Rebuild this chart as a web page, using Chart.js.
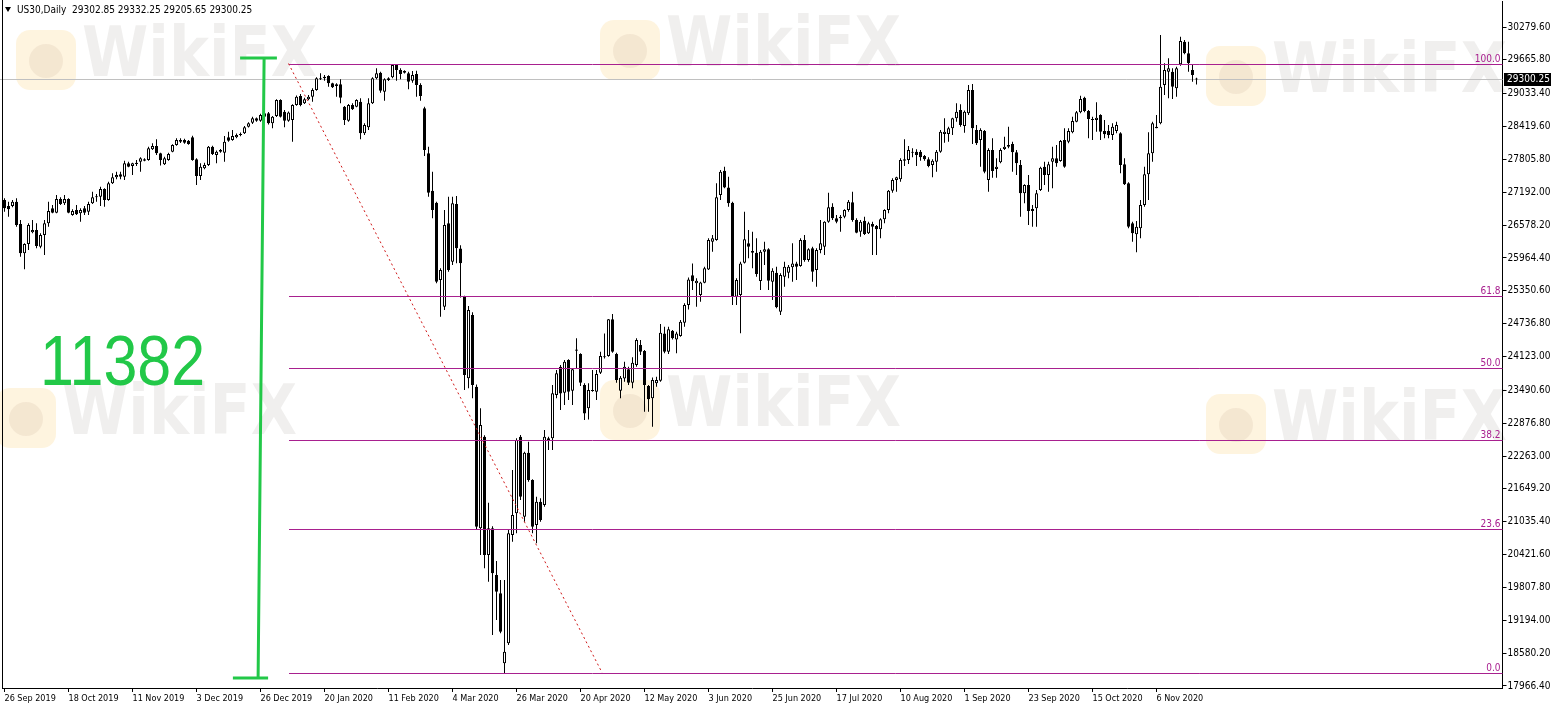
<!DOCTYPE html>
<html><head><meta charset="utf-8">
<script src="https://cdn.jsdelivr.net/npm/chart.js@4.4.1/dist/chart.umd.min.js"></script>
<style>html,body{margin:0;padding:0;background:#fff;overflow:hidden}canvas{display:block}</style>
</head><body>
<canvas id="c" width="1552" height="710"></canvas>
<script>
// ---------------- data ----------------
const tickLabels = ['26 Sep 2019','18 Oct 2019','11 Nov 2019','3 Dec 2019','26 Dec 2019','20 Jan 2020','11 Feb 2020','4 Mar 2020','26 Mar 2020','20 Apr 2020','12 May 2020','3 Jun 2020','25 Jun 2020','17 Jul 2020','10 Aug 2020','1 Sep 2020','23 Sep 2020','15 Oct 2020','6 Nov 2020'];
const opens = [27047,26935,26935,27016,26599,26051,26225,26443,26487,26175,26393,26611,26892,26811,27066,26985,27066,26767,26860,26798,
26892,26829,26985,27097,27110,27253,27047,27359,27471,27527,27483,27732,27682,27720,27763,27782,27795,27994,28056,27919,
27714,27795,27950,28075,28137,28168,28156,28218,27807,27496,27639,27701,28044,27888,27950,27932,28218,28168,28218,28262,
28293,28418,28492,28573,28530,28667,28667,28480,28617,28916,28698,28530,28542,28822,28990,28853,28928,28978,29103,29321,
29321,29364,29227,29177,29209,28791,28530,28822,28791,28885,28293,28405,28854,29321,29426,29071,29289,29339,29570,29476,
29458,29414,29277,29402,29196,28760,27919,27222,26998,25553,25054,26611,25895,26973,26140,25241,23715,24898,23559,20912,
22625,20414,20912,20040,19698,18390,18764,20788,21193,22625,21130,22326,21815,20975,21411,21348,22563,22594,23404,23932,
23447,24057,23484,24256,24169,23590,23154,23496,23465,23820,24119,24132,24817,24169,23484,23714,23883,23633,23964,24337,
24225,23571,23341,23621,23671,24555,24213,24605,24443,24505,24754,25085,25640,25490,25272,25502,25751,26268,26299,27140,
27595,27283,26997,25241,25272,25876,26237,26094,26063,25533,26081,26125,25521,25689,24960,25614,25689,25789,25863,25814,
26299,25926,26144,25739,26113,26175,26642,26922,26704,26704,26735,26860,27003,26673,26455,26661,26424,26599,26561,26499,
26686,26860,27221,27421,27433,27782,27794,27931,27950,27950,27869,27807,27701,27763,27950,28280,28280,28386,28573,28729,
28430,28666,29102,28355,28168,28336,27421,27981,27627,27751,27999,28044,28094,27938,27701,27172,27328,26842,26892,27234,
27670,27514,27764,27826,27776,28168,28137,28312,28511,28685,28959,28710,28561,28542,28635,28337,28337,28262,28337,28293,
27714,27359,26611,26406,26518,26954,27527,27919,28386,28480,29196,29445,29445,29134,29582,30006,29788,29476,29302.85];
const highs = [27078,27016,27047,27078,26674,26238,26611,26674,26611,26424,26674,27016,26954,27141,27097,27141,27078,26873,26954,26892,
26935,27016,27203,27159,27296,27265,27390,27546,27577,27577,27782,27764,27745,27795,27845,27826,28044,28106,28181,27930,
27857,27930,28090,28200,28200,28190,28168,28250,27826,27732,27745,28056,28060,27970,28000,28243,28324,28355,28290,28310,
28430,28500,28604,28590,28660,28700,28690,28617,28930,28930,28729,28700,28835,29000,29028,28960,29010,29134,29340,29414,
29383,29377,29240,29227,29302,28804,28840,28854,28930,28947,28480,28947,29340,29507,29445,29321,29340,29588,29588,29507,
29470,29445,29458,29464,29227,28791,28044,27577,27016,25771,26861,27110,27110,27122,26200,25260,25066,24950,23600,23154,
22650,21392,20950,20300,19947,19947,20881,22002,22594,22656,22345,22532,21828,21504,21473,22750,22625,23590,23871,23964,
24057,24070,23901,24462,24182,23621,23621,23870,23870,24213,24555,24823,24916,24194,23758,24026,23932,24107,24462,24431,
24244,23590,23733,23745,24730,24680,24680,24617,24586,24804,25116,25600,25863,25583,25521,25801,26331,26393,27358,27607,
27670,27483,27016,25583,25895,26829,26486,26455,26331,26113,26268,26144,25770,25801,25677,25895,25832,26237,25895,26331,
26393,26144,26175,26144,26673,26650,27184,26985,26767,26767,26873,27047,27203,26704,26673,26736,26642,26642,26580,26704,
26873,27234,27452,27483,27826,28181,28056,28012,27994,27981,27888,27844,27807,27981,28355,28573,28417,28585,28853,28835,
28720,29196,29214,28448,28386,28355,28012,28200,27826,28013,28231,28417,28137,27981,27795,27340,27514,26954,27234,27670,
27764,27764,28044,28075,28168,28386,28386,28604,28710,28997,28978,28729,28604,28872,28648,28542,28449,28480,28511,28312,
27826,27377,26642,26655,27047,27670,28312,28511,28635,30130,29601,29694,29507,29538,30099,30037,30006,29582,29332.25];
const lows = [26829,26736,26910,26549,25989,25752,26113,26424,26144,26144,26020,26549,26798,26798,26954,26954,26798,26755,26767,26642,
26767,26767,26973,27016,26935,26923,27035,27346,27433,27433,27421,27658,27514,27682,27577,27770,27782,27982,27888,27690,
27701,27780,27940,28060,28110,28100,28080,27780,27328,27421,27620,27682,27890,27732,27930,27764,28137,28156,28200,28240,
28280,28400,28467,28510,28510,28590,28460,28386,28600,28590,28405,28510,28137,28810,28800,28840,28910,28885,29090,29289,
29277,29165,29140,28978,28854,28449,28510,28728,28780,28181,28262,28355,28840,29302,29053,28903,29270,29321,29277,29302,
29410,29115,29240,28978,28903,27869,27110,26705,25490,24868,24990,25708,25833,25864,25226,23497,23528,23341,20900,20414,
20165,19916,18919,19200,18950,18203,18733,20663,20819,21442,21037,21784,20819,20632,21037,21317,22376,22376,23341,23123,
23216,23310,23216,23901,23571,22936,22948,23465,23310,23795,24088,24119,24194,23633,23341,23652,23590,23528,23932,24150,
23091,23092,22811,23559,23652,24182,24169,24443,24182,24493,24680,25000,25365,25054,25147,25490,25739,26081,26287,27047,
27265,26922,25085,25085,24556,25863,25957,25770,25614,25365,25832,25365,25178,25023,24898,25428,25583,25521,25552,25801,
25895,25895,25521,25428,26050,26020,26623,26673,26611,26455,26704,26829,26642,26424,26362,26393,26412,26019,26019,26331,
26611,26798,27184,27203,27390,27682,27720,27844,27682,27782,27782,27657,27471,27576,27931,28118,28137,28262,28511,28417,
28305,28635,28093,28075,27670,27545,27203,27465,27465,27732,27981,28013,27577,27514,26736,26985,26580,26549,26549,27215,
27328,27203,27265,27670,27764,27651,28106,28293,28498,28667,28685,28200,28168,28324,28168,28200,28200,28168,28293,27545,
27328,26518,26269,26069,26331,26923,27047,27764,28386,28461,29009,28947,28934,28978,29557,29769,29445,29258,29205.65];
const closes = [26892,26873,27016,26580,26051,26225,26580,26487,26188,26393,26611,26842,26811,27066,26973,27066,26811,26842,26780,26860,
26811,26973,27097,27110,27253,27047,27359,27471,27514,27483,27732,27670,27732,27745,27826,27807,28013,28056,27919,27795,
27826,27907,28075,28168,28168,28119,28094,27795,27496,27670,27701,28044,27907,27950,27982,28137,28156,28243,28262,28281,
28405,28480,28573,28530,28636,28604,28480,28604,28916,28604,28530,28680,28822,28978,28822,28928,28978,29103,29321,29302,
29352,29227,29152,29209,28959,28542,28822,28741,28916,28293,28449,28854,29321,29414,29090,29302,29321,29570,29476,29402,
29426,29258,29383,29196,28991,27982,27184,26861,25522,25740,26580,25740,26985,26144,25864,23777,24992,23590,20943,22843,
20414,20912,20072,19729,18982,18608,20819,21161,22563,21504,22326,21815,20943,21411,21068,22625,22594,23435,23808,23434,
24026,23465,23883,24231,23633,23060,23496,23478,23795,24132,24107,24817,24213,23683,23727,23932,23633,24007,24431,24213,
23590,23322,23683,23683,24568,24213,24630,24462,24555,24773,25085,25560,25530,25540,25508,25770,26299,26331,27097,27576,
27283,26985,25241,25552,25863,26312,26175,26063,25664,26081,26125,25540,25726,25041,25645,25801,25801,25863,25801,26299,
25926,26125,25708,26113,26237,26642,26910,26704,26642,26735,26860,27016,26673,26437,26642,26412,26611,26549,26499,26686,
26860,27221,27421,27471,27794,27807,27981,27950,27888,27844,27807,27682,27782,27950,28324,28324,28386,28573,28697,28448,
28697,29102,28386,28106,28355,27576,27981,27589,27670,27981,28044,28075,27938,27732,27172,27328,26842,26879,27172,27651,
27514,27714,27826,27732,28150,27670,28337,28523,28685,28934,28710,28561,28542,28586,28324,28274,28262,28417,28449,27701,
27340,26549,26424,26549,26954,27527,27919,28480,28417,29165,29476,29507,29165,29507,30018,29788,29601,29383,29300.25];
const yTickValues = [30279.60,29665.80,29033.40,28419.60,27805.80,27192.00,26578.20,25964.40,25350.60,24736.80,24123.00,23490.60,22876.80,22263.00,21649.20,21035.40,20421.60,19807.80,19194.00,18580.20,17966.40];
const fibLevels = [0.0, 23.6, 38.2, 50.0, 61.8, 100.0];
const fibLow = 18215;
const fibHigh = 29597;
const lastPrice = 29300.25;
const headerText = 'US30,Daily  29302.85 29332.25 29205.65 29300.25';
const rangeText = '11382';
const watermarkText = 'WikiFX';

// ---------------- layout / style ----------------
const SLOTS = 375;
const slotLabels = Array.from({length: SLOTS}, (_, i) => i);
const AXIS_FAMILY = '"DejaVu Sans Condensed","Liberation Sans",sans-serif';
const FIB_COLOR = '#a8208f';
const GREEN = '#22c848';

const bodyColors = closes.map((c, i) => (c >= opens[i] ? '#ffffff' : '#000000'));

function drawWatermark(c, lx, ly) {
  c.save();
  // logo tile
  c.fillStyle = 'rgba(252,205,110,0.22)';
  c.beginPath();
  if (c.roundRect) c.roundRect(lx, ly, 60, 60, 14); else c.rect(lx, ly, 60, 60);
  c.fill();
  c.fillStyle = 'rgba(200,170,150,0.18)';
  c.beginPath(); c.arc(lx + 30, ly + 31, 17, 0, Math.PI * 2); c.fill();
  // word mark
  c.fillStyle = 'rgba(120,105,100,0.11)';
  c.font = 'bold 70px "DejaVu Sans", sans-serif';
  c.textBaseline = 'alphabetic';
  const w = c.measureText(watermarkText).width;
  c.translate(lx + 66, ly + 46);
  c.scale(235 / w, 1);
  c.fillText(watermarkText, 0, 0);
  c.restore();
}

const overlay = {
  id: 'overlay',
  beforeDraw(chart) {
    const c = chart.ctx;
    c.save();
    c.fillStyle = '#ffffff';
    c.fillRect(0, 0, chart.width, chart.height);
    c.restore();
    [[16, 30], [600, 20], [1206, 46], [-4, 388], [600, 380], [1206, 394]].forEach(p => drawWatermark(c, p[0], p[1]));
  },
  beforeDatasetsDraw(chart) {
    const c = chart.ctx, a = chart.chartArea, y = chart.scales.y;
    const py = Math.round(y.getPixelForValue(lastPrice)) + 0.5;
    c.save();
    c.strokeStyle = '#c0c0c0';
    c.lineWidth = 1;
    c.beginPath(); c.moveTo(0, py); c.lineTo(a.right, py); c.stroke();
    c.restore();
  },
  afterDatasetsDraw(chart) {
    const c = chart.ctx, a = chart.chartArea, x = chart.scales.x, y = chart.scales.y;
    c.save();
    // fibonacci levels
    const fx = Math.round(x.getPixelForValue(71));
    c.strokeStyle = FIB_COLOR; c.lineWidth = 1;
    c.fillStyle = FIB_COLOR;
    c.font = '10px ' + AXIS_FAMILY;
    c.textAlign = 'right'; c.textBaseline = 'bottom';
    fibLevels.forEach(l => {
      const v = fibLow + (fibHigh - fibLow) * l / 100;
      const py = Math.round(y.getPixelForValue(v)) + 0.5;
      c.beginPath(); c.moveTo(fx, py); c.lineTo(a.right, py); c.stroke();
      c.fillText(l.toFixed(1), a.right - 2, py - 0.5);
    });
    // dotted trend line of the retracement
    c.strokeStyle = '#d01818'; c.setLineDash([2, 3]);
    c.beginPath();
    c.moveTo(x.getPixelForValue(71), y.getPixelForValue(fibHigh));
    c.lineTo(x.getPixelForValue(149.4), y.getPixelForValue(fibLow));
    c.stroke();
    c.setLineDash([]);
    // green range measurement
    c.strokeStyle = GREEN; c.lineWidth = 3; c.lineCap = 'butt';
    const tY = y.getPixelForValue(29700), bY = y.getPixelForValue(18116);
    c.beginPath();
    c.moveTo(x.getPixelForValue(64.9), tY); c.lineTo(x.getPixelForValue(63.4), bY);
    c.moveTo(x.getPixelForValue(58.9), tY); c.lineTo(x.getPixelForValue(68.1), tY);
    c.moveTo(x.getPixelForValue(57.1), bY); c.lineTo(x.getPixelForValue(65.9), bY);
    c.stroke();
    // range text
    c.fillStyle = GREEN;
    c.font = '70px "Liberation Sans", Arial, sans-serif';
    c.textAlign = 'left'; c.textBaseline = 'alphabetic';
    const tx = x.getPixelForValue(8.9), ty = y.getPixelForValue(23590);
    const w = c.measureText(rangeText).width;
    c.translate(tx, ty);
    c.scale(165 / w, 1);
    c.fillText(rangeText, 0, 0);
    c.restore();
  },
  afterDraw(chart) {
    const c = chart.ctx, a = chart.chartArea, y = chart.scales.y;
    c.save();
    // left frame
    c.strokeStyle = '#000'; c.lineWidth = 1;
    c.beginPath(); c.moveTo(2.5, 0); c.lineTo(2.5, a.bottom); c.stroke();
    // last price label
    const py = Math.round(y.getPixelForValue(lastPrice));
    c.fillStyle = '#000';
    c.fillRect(Math.round(a.right) + 1, py - 6, 47, 13);
    c.fillStyle = '#fff';
    c.font = '10px ' + AXIS_FAMILY;
    c.textAlign = 'left'; c.textBaseline = 'middle';
    c.fillText(lastPrice.toFixed(2), Math.round(a.right) + 4, py + 0.5);
    // header
    c.fillStyle = '#000';
    c.beginPath(); c.moveTo(5, 7); c.lineTo(11, 7); c.lineTo(8, 12); c.closePath(); c.fill();
    c.fillText(headerText, 17, 10.5);
    c.restore();
  }
};

new Chart(document.getElementById('c'), {
  type: 'bar',
  data: {
    labels: slotLabels,
    datasets: [
      { label: 'body', data: opens.map((o, i) => [o, closes[i]]), backgroundColor: bodyColors, borderColor: '#000000',
        borderWidth: 1, borderSkipped: false, barThickness: 3, grouped: false, minBarLength: 1, inflateAmount: 0, order: 0 },
      { label: 'wick', data: lows.map((l, i) => [l, highs[i]]), backgroundColor: '#000000', borderWidth: 0,
        barThickness: 1, grouped: false, inflateAmount: 0, order: 1 }
    ]
  },
  options: {
    responsive: false, animation: false, devicePixelRatio: 1,
    layout: { padding: { left: 2.5, top: 1, right: 0, bottom: 0 } },
    plugins: { legend: { display: false }, tooltip: { enabled: false } },
    scales: {
      x: {
        type: 'category', offset: true,
        grid: { display: true, drawOnChartArea: false, drawTicks: true, tickLength: 4, offset: false,
          color: ctx => (ctx.index % 16 === 0 && ctx.index / 16 < tickLabels.length) ? '#000' : 'rgba(0,0,0,0)' },
        border: { display: true, color: '#000', width: 1 },
        ticks: { autoSkip: false, maxRotation: 0, minRotation: 0, align: 'start', padding: 1, color: '#000',
          font: { family: AXIS_FAMILY, size: 9 },
          callback: (v, i) => (i % 16 === 0 && tickLabels[i / 16]) ? tickLabels[i / 16] : '' },
        afterFit: s => { s.height = 22; s.paddingLeft = 0; s.paddingRight = 0; }
      },
      y: {
        position: 'right', min: 17929.03, max: 30765.6,
        afterBuildTicks: s => { s.ticks = yTickValues.map(v => ({ value: v })); },
        grid: { drawOnChartArea: false, drawTicks: true, tickLength: 4, color: '#000' },
        border: { display: true, color: '#000', width: 1 },
        ticks: { padding: 1, color: '#000', font: { family: AXIS_FAMILY, size: 10 }, callback: v => Number(v).toFixed(2) },
        afterFit: s => { s.width = 49.5; s.paddingTop = 0; s.paddingBottom = 0; }
      }
    }
  },
  plugins: [overlay]
});
</script>
</body></html>
